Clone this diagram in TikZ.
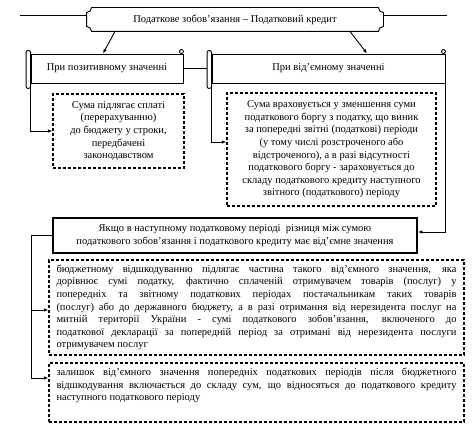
\documentclass[tikz,border=0pt]{standalone}
\usepackage{fontspec}
\setmainfont{Liberation Serif}
\usetikzlibrary{arrows.meta}

\begin{document}
\begin{tikzpicture}[x=1pt, y=1pt, line width=0.9pt,
  every node/.style={font=\fontsize{10.5}{12.6}\selectfont, inner sep=0pt},
  scroll/.style={draw, minimum height=29pt},
  dashbox/.style={draw, dash pattern=on 3pt off 2pt, line width=1.2pt, align=center},
  arr/.style={-{Latex[length=4.5pt,width=3.5pt]}}]
  \useasboundingbox (0,0) rectangle (474,430);

  % Title plaque
  \node[minimum width=296pt, minimum height=23pt] (banner) at (235,410.5) {Податкове зобов’язання – Податковий кредит};
  \draw ([yshift=5pt]banner.south west) -- ([yshift=-5pt]banner.north west) arc[start angle=270, end angle=360, radius=5pt]
    -- ([xshift=-5pt]banner.north east) arc[start angle=180, end angle=270, radius=5pt]
    -- ([yshift=5pt]banner.south east) arc[start angle=90, end angle=180, radius=5pt]
    -- ([xshift=5pt]banner.south west) arc[start angle=0, end angle=90, radius=5pt] -- cycle;
  \coordinate (rule west) at (20,415);
  \coordinate (rule east) at (447,415);
  \draw (rule west) -- (rule west -| banner.west);
  \draw (rule east) -- (rule east -| banner.east);

  % Scrolls
  \node[scroll, minimum width=152pt] (lscroll) at (107,361.5) {При позитивному значенні};
  \node[scroll, minimum width=233pt] (rscroll) at (328.5,361.5) {При від’ємному значенні};
  \foreach \s in {lscroll,rscroll} {
    \draw[fill=white, rounded corners=2pt] ([xshift=-4.5pt,yshift=3pt]\s.north west) rectangle ([yshift=-5pt]\s.south west);
    \draw ([xshift=-2pt,yshift=2pt]\s.north east) circle[radius=2pt];
  }

  % Amount boxes
  \node[dashbox, minimum width=131pt, minimum height=74pt] (lsum) at (118.5,299)
    {Сума підлягає сплаті\\(перерахуванню)\\до бюджету у строки,\\передбачені\\законодавством};
  \node[dashbox, minimum width=209pt, minimum height=113pt] (rsum) at (331.5,280.5)
    {Сума враховується у зменшення суми\\податкового боргу з податку, що виник\\за попередні звітні (податкові) періоди\\(у тому числі розстроченого або\\відстроченого), а в разі відсутності\\податкового боргу - зараховується до\\складу податкового кредиту наступного\\звітного (податкового) періоду};

  % Negative difference
  \node[draw, line width=1.8pt, minimum width=364pt, minimum height=35pt, align=center] (neg) at (235,194.5)
    {Якщо в наступному податковому періоді\ \ різниця між сумою\\податкового зобов’язання і податкового кредиту має від’ємне значення};
  \node[dashbox, minimum width=415pt, minimum height=95pt] (refund) at (256.5,122.5)
    {\parbox[c]{400pt}{бюджетному відшкодуванню підлягає частина такого від’ємного значення, яка\linebreak
    дорівнює сумі податку, фактично сплаченій отримувачем товарів (послуг) у\linebreak
    попередніх та звітному податкових періодах постачальникам таких товарів\linebreak
    (послуг) або до державного бюджету, а в разі отримання від нерезидента послуг на\linebreak
    митній території України - сумі податкового зобов’язання, включеного до\linebreak
    податкової декларації за попередній період за отримані від нерезидента послуги\linebreak
    отримувачем послуг}};
  \node[dashbox, minimum width=415pt, minimum height=59pt] (rest) at (256.5,37.5)
    {\parbox[c][49pt][t]{400pt}{залишок від’ємного значення попередніх податкових періодів після бюджетного\linebreak
    відшкодування включається до складу сум, що відносяться до податкового кредиту\linebreak
    наступного податкового періоду}};

  % Connectors
  \draw[arr] ([xshift=-120pt]banner.south) -- ([xshift=-4pt]lscroll.north);
  \draw[arr] ([xshift=115pt]banner.south) -- ([xshift=38.5pt]rscroll.north);
  \draw (lscroll.east) -- ([xshift=-4.5pt]rscroll.west);
  \draw[arr] (lscroll.south west) |- (lsum.west);
  \draw[arr] (rscroll.south west) |- ([yshift=7.5pt]rsum.west);
  \draw[arr] (rscroll.south east) |- ([yshift=3.5pt]neg.east);
  \draw (neg.west) -- ++(-21pt,0) coordinate (trunk);
  \draw[arr] (trunk) |- ([yshift=-2.5pt]refund.west);
  \draw[arr] (trunk) |- ([yshift=14.5pt]rest.west);
\end{tikzpicture}
\end{document}
